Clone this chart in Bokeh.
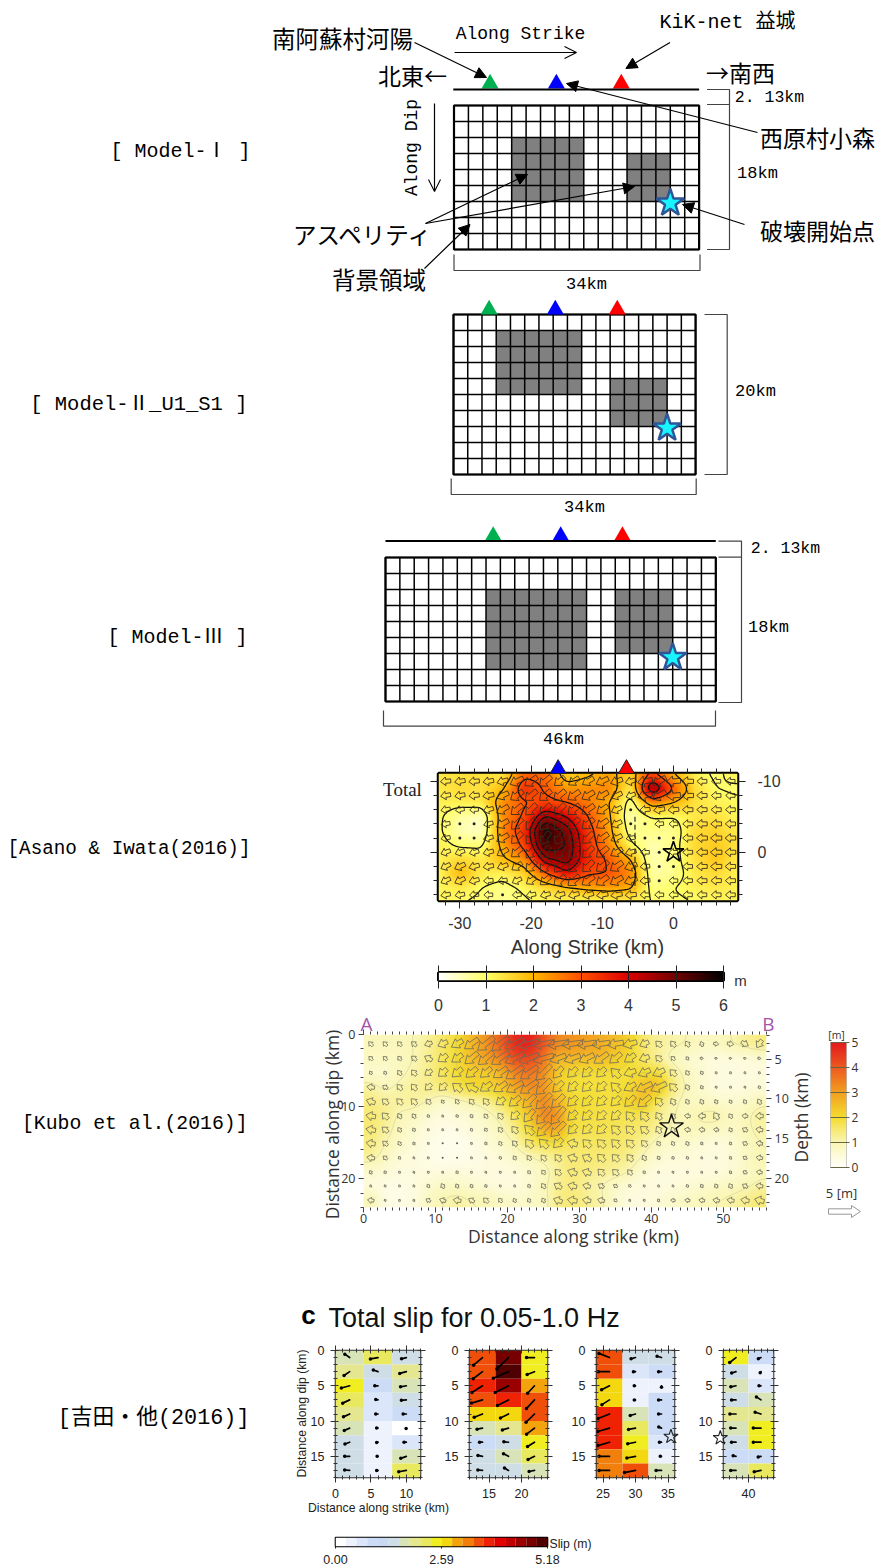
import numpy as np
from bokeh.plotting import figure
from bokeh.layouts import column, row
from bokeh.models import (Range1d, LinearAxis, FixedTicker, Label, Arrow, NormalHead, OpenHead,
                          LinearColorMapper, ColumnDataSource, NumeralTickFormatter)
from bokeh.transform import linear_cmap
from bokeh.embed import file_html
from bokeh.resources import INLINE

model1_cols, model1_rows = 17, 9
model1_asp_x0 = [8, 24]; model1_asp_x1 = [18, 30]; model1_asp_y0 = [4, 6]; model1_asp_y1 = [12, 12]
model1_star = (30.0, 12.2); model1_sta = [5.0, 14.2, 23.2]
model2_cols, model2_rows = 17, 10
model2_asp_x0 = [6, 22]; model2_asp_x1 = [18, 30]; model2_asp_y0 = [2, 8]; model2_asp_y1 = [10, 14]
model2_star = (30.0, 14.2); model2_sta = [5.0, 14.3, 23.0]
model3_cols, model3_rows = 23, 9
model3_asp_x0 = [14, 32]; model3_asp_x1 = [28, 40]; model3_asp_y0 = [4, 4]; model3_asp_y1 = [14, 12]
model3_star = (40.0, 12.5); model3_sta = [15.0, 24.4, 33.0]
sta_colors = ["#00b050", "#0000ff", "#ff0000"]

asano_x = [-33, -30, -27, -24, -21, -18, -15, -12, -9, -6, -3, 0, 3, 6, 9]
asano_y = [-11, -9, -7, -5, -3, -1, 1, 3, 5, 7]
asano_slip = [
    [1.3, 1.4, 1.4, 1.3, 2.8, 2.8, 1.6, 1.9, 2.2, 1.6, 3.2, 2.0, 1.2, 0.9, 1.2],
    [1.3, 1.5, 1.4, 1.9, 3.5, 2.9, 2.3, 2.4, 2.5, 1.2, 4.9, 3.0, 1.5, 1.0, 0.9],
    [1.2, 1.2, 1.3, 2.4, 2.9, 3.2, 3.0, 2.6, 2.0, 0.7, 2.4, 2.0, 1.4, 1.2, 1.1],
    [1.1, 0.6, 0.4, 2.4, 3.1, 4.6, 4.0, 3.0, 2.1, 0.5, 1.0, 1.0, 1.3, 1.4, 1.1],
    [1.1, 0.5, 0.4, 2.5, 3.4, 5.7, 4.8, 3.3, 2.2, 0.7, 0.8, 0.7, 1.5, 1.6, 1.3],
    [1.2, 0.9, 0.9, 2.2, 3.2, 5.4, 5.0, 3.4, 2.4, 1.1, 0.5, 0.8, 1.5, 1.7, 1.4],
    [1.2, 1.5, 1.3, 1.9, 2.4, 4.4, 4.8, 3.5, 2.9, 2.0, 0.5, 0.8, 1.4, 1.8, 1.3],
    [1.1, 2.0, 1.3, 1.2, 1.6, 2.9, 3.9, 3.1, 3.0, 2.5, 0.6, 0.7, 1.3, 1.5, 1.2],
    [1.1, 1.3, 1.0, 0.8, 1.1, 1.5, 1.9, 2.2, 2.3, 2.1, 0.8, 1.0, 1.2, 1.3, 1.2],
    [1.1, 1.0, 0.9, 0.7, 0.9, 1.1, 1.1, 1.0, 1.1, 1.2, 1.0, 0.9, 1.0, 1.1, 1.1],
]
asano_vec_x = [-32, -30, -28, -26, -24, -22, -20, -18, -16, -14, -12, -10, -8, -6, -4, -2, 0, 2, 4, 6, 8]
asano_vec_y = [-10, -8, -6, -4, -2, 0, 2, 4, 6]
asano_rake = [
    [185, 190, 185, 190, 195, 205, 215, 220, 220, 215, 210, 205, 200, 195, 190, 210, 185, 180, 180, 180, 180],
    [190, 190, 185, 190, 205, 215, 220, 220, 220, 215, 210, 210, 205, 200, 195, 210, 185, 180, 180, 180, 180],
    [190, 190, 185, 195, 210, 220, 225, 225, 225, 220, 215, 215, 205, 200, 185, 190, 185, 180, 180, 180, 180],
    [190, 190, 190, 195, 210, 225, 230, 230, 230, 225, 220, 215, 205, 195, 185, 185, 180, 180, 180, 180, 180],
    [190, 195, 190, 195, 210, 225, 230, 235, 235, 230, 225, 215, 205, 190, 180, 180, 180, 180, 180, 180, 180],
    [200, 200, 195, 195, 210, 220, 230, 235, 235, 230, 225, 220, 210, 195, 180, 180, 180, 180, 180, 180, 180],
    [205, 205, 195, 190, 200, 215, 225, 230, 230, 225, 225, 220, 215, 200, 185, 180, 180, 180, 180, 180, 180],
    [205, 205, 195, 185, 190, 205, 215, 220, 220, 220, 215, 215, 210, 200, 185, 180, 180, 180, 180, 180, 180],
    [190, 190, 185, 180, 180, 185, 190, 195, 195, 195, 195, 190, 190, 185, 180, 180, 180, 180, 180, 180, 180],
]
asano_star = (0.0, 0.0); asano_sta = [-16.2, -6.6]; asano_sta_colors = ["#0000ff", "#ff0000"]
asano_xticks = [-30, -20, -10, 0]; asano_yticks = [-10, 0]

kubo_x = [1, 3, 5, 7, 9, 11, 13, 15, 17, 19, 21, 23, 25, 27, 29, 31, 33, 35, 37, 39, 41, 43, 45, 47, 49, 51, 53, 55]
kubo_y = [1.3, 3.3, 5.3, 7.3, 9.3, 11.3, 13.2, 15.1, 17.1, 19.1, 21, 23]
kubo_slip = [
    [0.9, 0.9, 0.9, 1.0, 1.2, 1.6, 2.0, 2.6, 3.2, 3.9, 4.8, 5.0, 4.1, 3.3, 3.2, 3.0, 2.8, 2.5, 2.2, 1.5, 1.2, 1.1, 1.0, 0.8, 0.8, 1.0, 1.2, 1.4],
    [0.8, 0.8, 0.8, 1.0, 1.3, 1.7, 2.0, 2.6, 3.0, 3.4, 4.2, 4.3, 3.6, 2.6, 2.6, 2.5, 2.6, 2.3, 2.0, 1.6, 1.2, 0.8, 0.6, 0.5, 0.4, 0.4, 0.4, 0.5],
    [0.6, 0.6, 0.9, 1.1, 1.3, 1.7, 2.0, 2.2, 2.2, 2.6, 3.4, 3.6, 3.3, 2.2, 2.0, 1.9, 1.9, 1.9, 1.9, 2.0, 2.0, 1.3, 0.8, 0.6, 0.4, 0.4, 0.4, 0.4],
    [1.2, 0.9, 1.1, 1.2, 1.3, 1.5, 1.8, 2.1, 2.1, 2.4, 2.9, 3.3, 3.2, 2.2, 1.9, 1.9, 1.9, 1.9, 2.0, 2.6, 2.6, 1.5, 0.9, 0.6, 0.4, 0.4, 0.4, 0.5],
    [1.4, 1.2, 1.2, 1.2, 1.0, 0.6, 0.8, 1.0, 1.2, 1.6, 2.2, 2.7, 3.4, 2.7, 2.0, 2.0, 1.9, 1.9, 2.2, 2.5, 1.5, 1.1, 0.8, 0.8, 0.7, 0.6, 0.7, 0.9],
    [1.5, 1.3, 0.9, 0.8, 0.5, 0.4, 0.5, 0.6, 0.8, 1.1, 1.6, 2.4, 3.5, 3.3, 1.9, 1.9, 1.8, 1.8, 1.7, 1.7, 1.3, 1.0, 0.9, 1.1, 1.2, 0.8, 0.9, 1.2],
    [1.5, 1.2, 0.8, 0.6, 0.4, 0.3, 0.3, 0.5, 0.6, 0.9, 1.3, 1.9, 2.8, 3.0, 1.8, 1.8, 1.8, 1.7, 1.6, 1.5, 1.2, 0.9, 0.9, 0.9, 0.8, 0.7, 0.9, 1.1],
    [1.4, 1.0, 0.7, 0.5, 0.3, 0.2, 0.2, 0.3, 0.5, 0.7, 1.0, 1.6, 1.8, 1.9, 1.6, 1.6, 1.6, 1.6, 1.5, 1.2, 0.8, 0.7, 0.7, 0.5, 0.4, 0.5, 0.8, 1.0],
    [1.2, 0.8, 0.5, 0.4, 0.3, 0.2, 0.2, 0.3, 0.4, 0.5, 0.7, 0.9, 1.1, 1.3, 1.5, 1.5, 1.5, 1.4, 1.3, 0.9, 0.6, 0.5, 0.5, 0.4, 0.4, 0.5, 0.7, 1.0],
    [0.6, 0.5, 0.4, 0.4, 0.4, 0.4, 0.5, 0.4, 0.4, 0.4, 0.4, 0.6, 0.8, 1.2, 1.5, 1.4, 1.3, 1.2, 1.0, 0.5, 0.4, 0.4, 0.4, 0.4, 0.4, 0.5, 0.7, 0.9],
    [0.4, 0.3, 0.3, 0.4, 0.6, 0.8, 0.7, 0.6, 0.5, 0.4, 0.4, 0.6, 0.9, 1.3, 1.4, 1.2, 1.0, 0.7, 0.5, 0.4, 0.4, 0.4, 0.5, 0.6, 0.7, 0.8, 0.9, 1.1],
    [1.0, 0.3, 0.3, 0.4, 0.8, 1.0, 1.2, 1.0, 1.0, 0.8, 0.7, 0.7, 0.8, 1.4, 1.5, 1.3, 1.1, 0.6, 0.4, 0.4, 0.5, 0.7, 0.8, 0.9, 1.0, 1.1, 1.3, 1.5],
]
kubo_rake = [
    [135, 135, 135, 140, 200, 205, 210, 215, 218, 218, 205, 195, 190, 190, 188, 188, 188, 190, 195, 205, 135, 130, 125, 110, 350, 350, 330, 235],
    [135, 135, 130, 140, 150, 215, 215, 220, 220, 215, 205, 200, 195, 200, 200, 205, 215, 220, 215, 200, 135, 135, 125, 350, 350, 350, 350, 350],
    [125, 120, 125, 130, 215, 220, 220, 220, 220, 215, 215, 215, 225, 230, 225, 225, 225, 135, 200, 205, 205, 135, 125, 120, 120, 120, 120, 120],
    [170, 150, 130, 130, 225, 225, 140, 150, 215, 215, 210, 215, 225, 225, 225, 225, 225, 135, 210, 205, 205, 135, 120, 120, 120, 120, 120, 120],
    [160, 140, 135, 135, 130, 125, 130, 130, 130, 215, 220, 225, 225, 225, 225, 225, 225, 225, 225, 220, 130, 120, 120, 120, 120, 120, 120, 120],
    [170, 135, 125, 125, 120, 120, 120, 120, 130, 130, 225, 230, 230, 230, 225, 225, 225, 225, 130, 130, 125, 125, 170, 180, 125, 125, 170, 180],
    [170, 140, 125, 120, 120, 120, 120, 120, 125, 130, 130, 135, 225, 225, 225, 225, 225, 135, 135, 140, 120, 120, 170, 170, 170, 120, 150, 170],
    [170, 140, 125, 120, 120, 120, 120, 120, 120, 125, 130, 130, 135, 225, 165, 135, 135, 135, 135, 135, 125, 120, 120, 120, 120, 120, 150, 170],
    [170, 140, 125, 120, 120, 120, 120, 120, 120, 120, 125, 130, 130, 130, 160, 150, 135, 135, 130, 120, 120, 120, 120, 120, 120, 120, 150, 170],
    [120, 120, 120, 120, 120, 120, 120, 120, 120, 120, 120, 130, 130, 135, 160, 160, 135, 135, 130, 120, 120, 120, 120, 120, 120, 120, 150, 170],
    [120, 120, 120, 120, 120, 120, 120, 120, 120, 120, 120, 120, 125, 150, 165, 165, 150, 150, 140, 120, 120, 120, 120, 120, 120, 120, 150, 170],
    [170, 120, 120, 120, 150, 160, 170, 150, 135, 130, 120, 120, 120, 160, 170, 170, 165, 140, 120, 120, 120, 170, 170, 170, 170, 170, 170, 165],
]
kubo_star = (42.8, 12.8)

yoshida_panels = [(0, 12), (12, 24), (24, 36), (36, 44)]
yoshida_slip = [
    [[1.69, 2.20, 1.43], [1.95, 1.43, 1.95], [2.46, 0.91, 1.69], [2.20, 0.65, 1.43], [1.95, 0.65, 0.91],
     [1.69, 0.39, 0.13], [1.43, 0.39, 0.65], [1.43, 0.26, 1.69], [1.43, 0.39, 2.20]],
    [[3.50, 4.80, 2.46], [3.50, 5.05, 2.40], [3.76, 4.50, 2.98], [3.50, 3.76, 3.50], [2.72, 2.72, 3.50],
     [1.69, 1.95, 2.98], [0.91, 1.43, 2.46], [1.43, 1.69, 2.20], [1.43, 1.43, 1.69]],
    [[3.50, 1.43, 1.43], [3.50, 0.65, 0.91], [2.72, 0.39, 0.39], [2.72, 0.39, 0.91], [3.76, 1.69, 0.91],
     [3.76, 2.20, 0.91], [3.76, 2.46, 0.65], [3.24, 2.72, 0.39], [3.24, 3.50, 1.69]],
    [[2.46, 0.91], [1.43, 0.39], [1.69, 0.65], [1.43, 1.69], [1.95, 1.95], [1.69, 2.46], [1.43, 2.46], [0.91, 0.91], [1.69, 2.20]],
]
yoshida_rake = [
    [[145, 190, 195], [215, 160, 195], [195, 180, 190], [205, 170, 185], [205, 180, 180],
     [205, 180, 240], [200, 190, 180], [180, 180, 200], [175, 180, 190]],
    [[218, 222, 180], [215, 202, 200], [210, 205, 225], [195, 205, 225], [200, 205, 222],
     [190, 195, 215], [180, 175, 210], [170, 155, 205], [175, 150, 190]],
    [[160, 195, 165], [180, 180, 180], [205, 180, 270], [210, 180, 180], [200, 195, 180],
     [195, 190, 160], [195, 190, 180], [180, 190, 180], [180, 190, 180]],
    [[215, 200], [195, 230], [190, 180], [180, 150], [180, 165], [180, 180], [180, 180], [170, 190], [180, 190]],
]
yoshida_stars_x = [35.5, 36.4]; yoshida_stars_y = [12.2, 12.4]
yoshida_palette = ["#ffffff", "#eef2fd", "#dce6fa", "#ccdcf6", "#c8daf2", "#cfdde6", "#d9e3b8", "#e4e690",
                   "#e9e960", "#f0ee20", "#f3d810", "#f3a30c", "#f07f0c", "#ef4f08", "#ef2304", "#e20000",
                   "#c00000", "#9a0000", "#760000", "#4f0000"]
yoshida_max = 5.18

asano_ramp = ["#ffffff", "#ffff66", "#ffb400", "#ff5000", "#dc0000", "#700000", "#000000"]
kubo_ramp = ["#fffffa", "#faf6b4", "#f4dc30", "#f2a020", "#ec5a20", "#e31a1c"]

MONO = "'Liberation Mono','Noto Sans CJK JP'"
CJK = "'Noto Sans CJK JP'"
SANS = "'Liberation Sans'"
OPEN = "'Open Sans'"
PW, PH = 878, 1566


def ramp(anchors, n=256):
    rgb = np.array([[int(c[i:i + 2], 16) for i in (1, 3, 5)] for c in anchors], float)
    t = np.linspace(0, 1, n)
    k = np.linspace(0, 1, len(anchors))
    out = np.stack([np.interp(t, k, rgb[:, j]) for j in range(3)], 1).round().astype(int)
    return ["#%02x%02x%02x" % tuple(v) for v in out]


def smooth_field(xs, ys, z, gx, gy, sigma):
    z = np.asarray(z, float)
    a = np.stack([np.interp(gx, xs, r) for r in z])
    a = np.stack([np.interp(gy, ys, a[:, j]) for j in range(a.shape[1])], 1)
    r = int(3 * sigma)
    ker = np.exp(-0.5 * (np.arange(-r, r + 1) / sigma) ** 2)
    ker /= ker.sum()
    a = np.apply_along_axis(lambda v: np.convolve(np.pad(v, r, mode="edge"), ker, "valid"), 0, a)
    a = np.apply_along_axis(lambda v: np.convolve(np.pad(v, r, mode="edge"), ker, "valid"), 1, a)
    return a


def canvas(top, bottom, xr, yr, left=0, right=PW, frame=None):
    fx0, fx1, fy0, fy1 = frame if frame else (left, right, top, bottom)
    p = figure(width=right - left, height=bottom - top, output_backend="svg", toolbar_location=None,
               x_range=Range1d(*xr), y_range=Range1d(*yr), x_axis_location=None, y_axis_location=None,
               min_border_left=fx0 - left, min_border_right=right - fx1,
               min_border_top=fy0 - top, min_border_bottom=bottom - fy1,
               background_fill_color=None, border_fill_color="white", outline_line_color=None,
               frame_align=False)
    p.xgrid.visible = False
    p.ygrid.visible = False
    p.extra_x_ranges = {"px": Range1d(fx0, fx1)}
    p.extra_y_ranges = {"px": Range1d(fy1, fy0)}
    return p


def txt(p, x, y, s, size, font=MONO, align="center", color="black", angle=0, style="normal"):
    p.add_layout(Label(x=x, y=y, x_range_name="px", y_range_name="px", text=s, text_font=font,
                       text_font_size=f"{size}px", text_align=align, text_baseline="middle",
                       text_color=color, angle=angle, angle_units="deg", text_font_style=style))


def arrow(p, x0, y0, x1, y1, head="normal", size=11, width=1.2):
    h = NormalHead(size=size, fill_color="black", line_color="black", line_width=1) if head == "normal" \
        else OpenHead(size=size, line_color="black", line_width=1.1)
    p.add_layout(Arrow(end=h, x_start=x0, y_start=y0, x_end=x1, y_end=y1, line_width=width,
                       line_color="black", x_range_name="px", y_range_name="px"))


def bracket(p, xs, ys, color="#444444"):
    p.line(xs, ys, x_range_name="px", y_range_name="px", line_color=color, line_width=1.2)


def schematic(top, bottom, ox, oy, sx, sy, cols, rows, ax0, ax1, ay0, ay1, star, sta, sta_base):
    p = canvas(top, bottom, ((0 - ox) / sx, (PW - ox) / sx), ((bottom - oy) / sy, (top - oy) / sy))
    W, H = cols * 2, rows * 2
    p.quad(left=[0], right=[W], top=[0], bottom=[H], fill_color="white", line_color=None)
    p.quad(left=ax0, right=ax1, top=ay0, bottom=ay1, fill_color="#808080", line_color=None)
    vx = list(range(0, W + 1, 2))
    hy = list(range(0, H + 1, 2))
    p.segment(vx, [0] * len(vx), vx, [H] * len(vx), line_color="black", line_width=1.5)
    p.segment([0] * len(hy), hy, [W] * len(hy), hy, line_color="black", line_width=1.5)
    p.quad(left=[0], right=[W], top=[0], bottom=[H], fill_color=None, line_color="black", line_width=2.2)
    p.scatter(sta, [sta_base - 4.9] * 3, y_range_name="px", marker="triangle", size=17,
              fill_color=sta_colors, line_color=None)
    p.scatter([star[0]], [star[1]], marker="star", size=29, fill_color="#19f5ff", line_color="#2f5597", line_width=2.5)
    return p


def no_labels(ax, ticks):
    ax.major_label_overrides = {t: "" for t in ticks}


ov = canvas(0, PH, (0, PW), (PH, 0))
ov.border_fill_color = None
ov.margin = (-PH, 0, 0, 0)
ov.extra_x_ranges["asano_x"] = Range1d(-33 - 438 / 7.12, -33 + (PW - 438) / 7.12)
ov.extra_y_ranges["asano_y"] = Range1d(-11.1 + (PH - 773) * 17.9 / 127, -11.1 - 773 * 17.9 / 127)
ov.extra_x_ranges["yosh3_x"] = Range1d(24 - 589 * 12 / 85, 24 + (PW - 589) * 12 / 85)
ov.extra_x_ranges["yosh4_x"] = Range1d(36 - 717 * 8 / 56, 36 + (PW - 717) * 8 / 56)
ov.extra_y_ranges["yosh_y"] = Range1d((PH - 1350) * 18 / 127, -1350 * 18 / 127)

m1 = schematic(0, 296, 453.5, 105, 7.21, 8.0, model1_cols, model1_rows, model1_asp_x0, model1_asp_x1,
               model1_asp_y0, model1_asp_y1, model1_star, model1_sta, 88)
m1.line([-0.1, 34], [-2, -2], line_color="black", line_width=2)
txt(m1, 250, 151, "[ Model-Ⅰ ]", 20, align="right")
txt(m1, 342, 37, "南阿蘇村河陽", 23.5, CJK)
txt(m1, 520, 33, "Along Strike", 18)
txt(m1, 727, 22, "KiK-net 益城", 20)
txt(m1, 412, 74, "北東←", 23, CJK)
txt(m1, 740, 71, "→南西", 23, CJK)
txt(m1, 769, 97, "2. 13km", 16.5)
txt(m1, 817, 136, "西原村小森", 23, CJK)
txt(m1, 757, 173, "18km", 17)
txt(m1, 817, 229, "破壊開始点", 23, CJK)
txt(m1, 363, 233, "アスペリティ", 23.5, CJK)
txt(m1, 378.5, 278, "背景領域", 23.5, CJK)
txt(m1, 586, 284, "34km", 17)
txt(m1, 411, 147, "Along Dip", 18, angle=90)
arrow(m1, 414, 42, 486, 77)
arrow(m1, 669.5, 42, 625.4, 68)
arrow(m1, 757, 132, 566, 83)
arrow(m1, 454, 52, 576, 52, "open", 12)
arrow(m1, 434, 103, 434, 191, "open", 12)
arrow(m1, 425, 223, 527, 174)
arrow(m1, 425, 223, 634, 186)
arrow(m1, 424, 268, 469.5, 224)
arrow(m1, 744, 224, 682, 204)
bracket(m1, [453.5, 453.5, 699.5, 699.5], [254, 270, 270, 254])
bracket(m1, [706.5, 729, 729, 706.5], [89, 89, 249, 249])
bracket(m1, [706.5, 729], [104, 104])

m2 = schematic(296, 525, 453, 314, 7.12, 8.0, model2_cols, model2_rows, model2_asp_x0, model2_asp_x1,
               model2_asp_y0, model2_asp_y1, model2_star, model2_sta, 314)
txt(m2, 247, 404, "[ Model-Ⅱ_U1_S1 ]", 20.5, align="right")
txt(m2, 755, 391, "20km", 17)
txt(m2, 584, 507, "34km", 17)
bracket(m2, [704, 726.7, 726.7, 704], [314, 314, 474, 474])
bracket(m2, [450.7, 450.7, 695.7, 695.7], [478, 494, 494, 478])

m3 = schematic(525, 755, 385, 557, 7.18, 8.0, model3_cols, model3_rows, model3_asp_x0, model3_asp_x1,
               model3_asp_y0, model3_asp_y1, model3_star, model3_sta, 540.5)
m3.line([0, 46], [-2.05, -2.05], line_color="black", line_width=2)
txt(m3, 247, 637, "[ Model-Ⅲ ]", 20, align="right")
txt(m3, 785, 548, "2. 13km", 16.5)
txt(m3, 768, 626.5, "18km", 17)
txt(m3, 563, 739, "46km", 17)
bracket(m3, [718, 741, 741, 718], [540.7, 540.7, 702, 702])
bracket(m3, [718, 741], [556.7, 556.7])
bracket(m3, [383, 383, 715, 715], [710, 725.7, 725.7, 710])


def block_arrow(x, y, L, ang, w, hl, sx, sy):
    u = np.array([np.cos(np.deg2rad(ang)), np.sin(np.deg2rad(ang))])
    n = np.array([-u[1], u[0]])
    tw = w * 0.45
    pts = [-u * L / 2 + n * tw / 2, u * (L / 2 - hl) + n * tw / 2, u * (L / 2 - hl) + n * w / 2, u * L / 2,
           u * (L / 2 - hl) - n * w / 2, u * (L / 2 - hl) - n * tw / 2, -u * L / 2 - n * tw / 2]
    return [x + q[0] / sx for q in pts], [y - q[1] / sy for q in pts]


def tick_style(ax, maj_out, maj_in, min_out, min_in, color):
    ax.major_tick_out = maj_out
    ax.major_tick_in = maj_in
    ax.minor_tick_out = min_out
    ax.minor_tick_in = min_in
    ax.major_tick_line_color = color
    ax.minor_tick_line_color = color
    ax.axis_line_color = None


sxa, sya = 7.12, 7.1
a = canvas(755, 955, (-33.0, 9.0), (6.8, -11.1), frame=(438, 737, 773, 900))
gx = np.linspace(-33, 9, 253)
gy = np.linspace(-11.1, 6.8, 109)
za = smooth_field(asano_x, asano_y, asano_slip, gx, gy, 2.4)
cm_a = LinearColorMapper(palette=ramp(asano_ramp), low=0, high=6)
a.image(image=[za], x=-33, y=-11.1, dw=42, dh=17.9, color_mapper=cm_a)
a.contour(gx, gy, za, levels=[1, 2, 3, 4, 4.5, 5, 5.4], line_color="#111111", line_width=1.3)
a.segment([-5.4], [-5], [-5.4], [5.2], line_color="black", line_width=1, line_dash="5 3")
vx_a, vy_a, dx_a, dy_a = [], [], [], []
for j, yy in enumerate(asano_vec_y):
    for i, xx in enumerate(asano_vec_x):
        s = za[np.abs(gy - yy).argmin(), np.abs(gx - xx).argmin()]
        if s < 0.8:
            dx_a.append(xx); dy_a.append(yy)
        else:
            L = min(15.0, 6 + 3.2 * s)
            qx, qy = block_arrow(xx, yy, L, asano_rake[j][i], min(11.0, 6.5 + 1.6 * s), min(6.5, L * 0.5), sxa, sya)
            vx_a.append(qx); vy_a.append(qy)
a.patches(vx_a, vy_a, fill_color=None, line_color="#3a3020", line_width=0.9)
a.scatter(dx_a, dy_a, size=3, fill_color="#222222", line_color=None)
a.scatter([asano_star[0]], [asano_star[1]], marker="star", size=22, fill_color=None, line_color="black", line_width=1.6)
a.outline_line_color = "black"
a.outline_line_width = 3.5
xt = LinearAxis(ticker=FixedTicker(ticks=asano_xticks, minor_ticks=list(range(-32, 10, 2))))
xb = LinearAxis(ticker=FixedTicker(ticks=asano_xticks, minor_ticks=list(range(-32, 10, 2))))
yl = LinearAxis(ticker=FixedTicker(ticks=asano_yticks, minor_ticks=list(range(-10, 7, 2))))
yr = LinearAxis(ticker=FixedTicker(ticks=asano_yticks, minor_ticks=list(range(-10, 7, 2))))
for ax in (xt, xb, yl, yr):
    tick_style(ax, 8, 0, 5, 0, "#222222")
    ax.major_label_text_font = SANS
    ax.major_label_text_font_size = "16px"
    ax.major_label_text_color = "#333333"
no_labels(xt, asano_xticks)
no_labels(yl, asano_yticks)
xb.major_label_overrides = {t: str(t) for t in asano_xticks}
yr.major_label_overrides = {t: str(t) for t in asano_yticks}
xb.major_label_standoff = 8
yr.major_label_standoff = 12
a.add_layout(xb, "below"); a.add_layout(xt, "above"); a.add_layout(yl, "left"); a.add_layout(yr, "right")
ov.scatter(asano_sta, [-11.75] * len(asano_sta), x_range_name="asano_x", y_range_name="asano_y", marker="triangle",
           size=16, fill_color=asano_sta_colors, line_color="#222222", line_width=1)
txt(ov, 250, 848, "[Asano & Iwata(2016)]", 19.3, align="right")
txt(ov, 402, 789, "Total", 19, "'Liberation Serif'", color="#222222")
txt(ov, 587, 946, "Along Strike (km)", 20, SANS, color="#333333")

ab = canvas(955, 1013, (0, 6), (0, 1), frame=(438, 723, 972, 987))
ab.image(image=[np.linspace(0, 6, 256)[None, :]], x=0, y=0, dw=6, dh=1, color_mapper=cm_a)
ab.outline_line_color = "black"
ab.outline_line_width = 3
abx = LinearAxis(ticker=FixedTicker(ticks=[0, 1, 2, 3, 4, 5, 6]))
tick_style(abx, 8, 15, 0, 0, "#222222")
abx.major_label_text_font = SANS
abx.major_label_text_font_size = "16px"
abx.major_label_text_color = "#333333"
abx.major_label_standoff = 10
ab.add_layout(abx, "below")
txt(ov, 740, 980, "m", 15, SANS, color="#333333")

sk = 7.19
k = canvas(1013, 1250, (0, 56), (24, 0), right=820, frame=(363, 766, 1034, 1207))
gxk = np.linspace(0, 56, 225)
gyk = np.linspace(0, 24, 97)
zk = smooth_field(kubo_x, kubo_y, kubo_slip, gxk, gyk, 2.5)
cm_k = LinearColorMapper(palette=ramp(kubo_ramp), low=0, high=5)
k.image(image=[zk], x=0, y=0, dw=56, dh=24, color_mapper=cm_k)
k.contour(gxk, gyk, zk, levels=[1, 2], line_color="#b8b48c", line_width=0.6, line_alpha=0.6)
vx_k, vy_k, dx_k, dy_k = [], [], [], []
for j, yy in enumerate(kubo_y):
    for i, xx in enumerate(kubo_x):
        s = kubo_slip[j][i]
        if s < 0.3:
            dx_k.append(xx); dy_k.append(yy)
        else:
            L = min(21.0, max(2.5, 6.5 * s))
            qx, qy = block_arrow(xx, yy, L, kubo_rake[j][i], min(10.5, L * 0.95), min(7.5, L * 0.6), sk, sk)
            vx_k.append(qx); vy_k.append(qy)
k.patches(vx_k, vy_k, fill_color=None, line_color="#6a6a5a", line_width=0.8)
k.scatter(dx_k, dy_k, size=2, fill_color="#555555", line_color=None)
k.scatter([kubo_star[0]], [kubo_star[1]], marker="star", size=25, fill_color=None, line_color="#111111", line_width=1.4)
k.extra_y_ranges["depth"] = Range1d(23.66, 1.91)
kxb = LinearAxis(ticker=FixedTicker(ticks=[0, 10, 20, 30, 40, 50], minor_ticks=list(range(0, 57))))
kxt = LinearAxis(ticker=FixedTicker(ticks=[0, 10, 20, 30, 40, 50], minor_ticks=list(range(0, 57))))
kyl = LinearAxis(ticker=FixedTicker(ticks=[0, 10, 20], minor_ticks=list(range(0, 25, 2))))
kyr = LinearAxis(y_range_name="depth", ticker=FixedTicker(ticks=[5, 10, 15, 20], minor_ticks=list(range(2, 24))))
for ax in (kxb, kxt, kyl, kyr):
    tick_style(ax, 5, 0, 3, 0, "#444444")
    ax.major_label_text_font = OPEN
    ax.major_label_text_font_size = "12.5px"
    ax.major_label_text_color = "#333333"
    ax.major_label_standoff = 3
kxb.major_label_standoff = 1
no_labels(kxt, [0, 10, 20, 30, 40, 50])
k.add_layout(kxb, "below"); k.add_layout(kxt, "above"); k.add_layout(kyl, "left"); k.add_layout(kyr, "right")
txt(ov, 247, 1123, "[Kubo et al.(2016)]", 19.8, align="right")
txt(ov, 366, 1023, "A", 19, OPEN, color="#a455a8")
txt(ov, 768, 1023, "B", 19, OPEN, color="#a455a8")
txt(ov, 573, 1235, "Distance along strike (km)", 17.6, OPEN, color="#333333")
txt(ov, 331, 1124, "Distance along dip (km)", 17.4, OPEN, color="#333333", angle=90)
txt(ov, 800, 1117, "Depth (km)", 17.4, OPEN, color="#333333", angle=90)

kb = canvas(1013, 1250, (0, 1), (0, 5), left=820, frame=(830, 846, 1042, 1167))
kb.image(image=[np.linspace(0, 5, 256)[:, None]], x=0, y=0, dw=1, dh=5, color_mapper=cm_k)
kb.outline_line_color = "#bbbbbb"
kb.outline_line_width = 1
kby = LinearAxis(ticker=FixedTicker(ticks=[0, 1, 2, 3, 4, 5]))
tick_style(kby, 3, 16, 0, 0, "#666644")
kby.major_label_text_font = OPEN
kby.major_label_text_font_size = "12px"
kby.major_label_text_color = "#333333"
kby.major_label_standoff = 2
kb.add_layout(kby, "right")
txt(ov, 836, 1034, "[m]", 10.5, OPEN, color="#333333")
txt(ov, 841, 1192, "5 [m]", 13, OPEN, color="#333333")
lq = block_arrow(844, 1211, 32, 0, 12, 9, 1, 1)
ov.patch(lq[0], lq[1], fill_color="white", line_color="#999999", line_width=1)

ts = canvas(1250, 1335, (0, 1), (0, 1))
txt(ts, 308, 1314, "c", 26, SANS, style="bold")
txt(ts, 328, 1317, "Total slip for 0.05-1.0 Hz", 27, SANS, align="left", color="#111111")

frames = [(335, 420), (463, 547), (589, 674), (717, 773)]
edges = [(0, 441), (441, 568), (568, 695), (695, PW)]
ypanels = []
for n, ((km0, km1), (f0, f1), (e0, e1)) in enumerate(zip(yoshida_panels, frames, edges)):
    q = canvas(1335, 1520, (km0, km1), (18, 0), left=e0, right=e1, frame=(f0, f1, 1350, 1477))
    sl = np.array(yoshida_slip[n])
    rk = np.array(yoshida_rake[n])
    ny, nx = sl.shape
    cx = km0 + 4 * (np.arange(nx) + 0.5)
    cy = 2 * (np.arange(ny) + 0.5)
    X, Y = np.meshgrid(cx, cy)
    src = ColumnDataSource(dict(l=(X - 2).ravel(), r=(X + 2).ravel(), t=(Y - 1).ravel(), b=(Y + 1).ravel(), s=sl.ravel()))
    q.quad(left="l", right="r", top="t", bottom="b", source=src, line_color=None,
           fill_color=linear_cmap("s", yoshida_palette, 0, yoshida_max))
    sx_ = (f1 - f0) / (km1 - km0)
    L = sl * 3.5 / sx_
    hx = X + L * np.cos(np.deg2rad(rk))
    hy = Y - L * np.sin(np.deg2rad(rk))
    q.segment(X.ravel(), Y.ravel(), hx.ravel(), hy.ravel(), line_color="black", line_width=1.7, line_cap="round")
    q.scatter(hx.ravel(), hy.ravel(), size=3.5, fill_color="black", line_color=None)
    q.outline_line_color = "#333333"
    q.outline_line_width = 1.6
    majx = [v for v in range(0, 45, 5) if km0 <= v <= km1 and not (n > 0 and v == km0)]
    minx = list(range(km0, km1 + 1))
    for loc in ("below", "above"):
        ax = LinearAxis(ticker=FixedTicker(ticks=majx, minor_ticks=minx))
        tick_style(ax, 5, 3, 2, 2, "#333333")
        ax.major_label_text_font = SANS
        ax.major_label_text_font_size = "12.5px"
        ax.major_label_text_color = "#222222"
        ax.major_label_standoff = 6
        if loc == "above":
            no_labels(ax, majx)
        q.add_layout(ax, loc)
    for loc in ("left", "right"):
        ax = LinearAxis(ticker=FixedTicker(ticks=[0, 5, 10, 15], minor_ticks=list(range(0, 19))))
        tick_style(ax, 5, 3, 2, 2, "#333333")
        ax.major_label_text_font = SANS
        ax.major_label_text_font_size = "12.5px"
        ax.major_label_text_color = "#222222"
        ax.major_label_standoff = 6
        if loc == "right":
            no_labels(ax, [0, 5, 10, 15])
        q.add_layout(ax, loc)
    ypanels.append(q)
ov.scatter([yoshida_stars_x[0]], [yoshida_stars_y[0]], x_range_name="yosh3_x", y_range_name="yosh_y", marker="star",
           size=15, fill_color=None, line_color="#222222", line_width=1.1)
ov.scatter([yoshida_stars_x[1]], [yoshida_stars_y[1]], x_range_name="yosh4_x", y_range_name="yosh_y", marker="star",
           size=15, fill_color=None, line_color="#222222", line_width=1.1)
txt(ov, 249, 1418, "[吉田・他(2016)]", 21.8, align="right")
txt(ov, 301, 1413, "Distance along dip (km)", 12.2, SANS, color="#222222", angle=90)
txt(ov, 378, 1507, "Distance along strike (km)", 12.2, SANS, color="#222222")

yb = canvas(1520, PH, (0, yoshida_max), (0, 1), frame=(335, 547, 1537, 1547))
edges_bar = np.linspace(0, yoshida_max, len(yoshida_palette) + 1)
yb.quad(left=edges_bar[:-1], right=edges_bar[1:], top=[1] * len(yoshida_palette), bottom=[0] * len(yoshida_palette),
        fill_color=yoshida_palette, line_color=None)
yb.outline_line_color = "black"
yb.outline_line_width = 1.6
ybx = LinearAxis(ticker=FixedTicker(ticks=[0, 2.59, 5.18]))
tick_style(ybx, 2, 0, 0, 0, "#222222")
ybx.major_label_text_font = SANS
ybx.major_label_text_font_size = "12.5px"
ybx.major_label_text_color = "#222222"
ybx.major_label_standoff = 6
ybx.formatter = NumeralTickFormatter(format="0.00")
yb.add_layout(ybx, "below")
txt(ov, 549, 1543, "Slip (m)", 12.2, SANS, align="left", color="#222222")

page = column(m1, m2, m3, a, ab, row(k, kb), ts, row(*ypanels), yb, ov)
open("out.html", "w").write(file_html(page, INLINE))
